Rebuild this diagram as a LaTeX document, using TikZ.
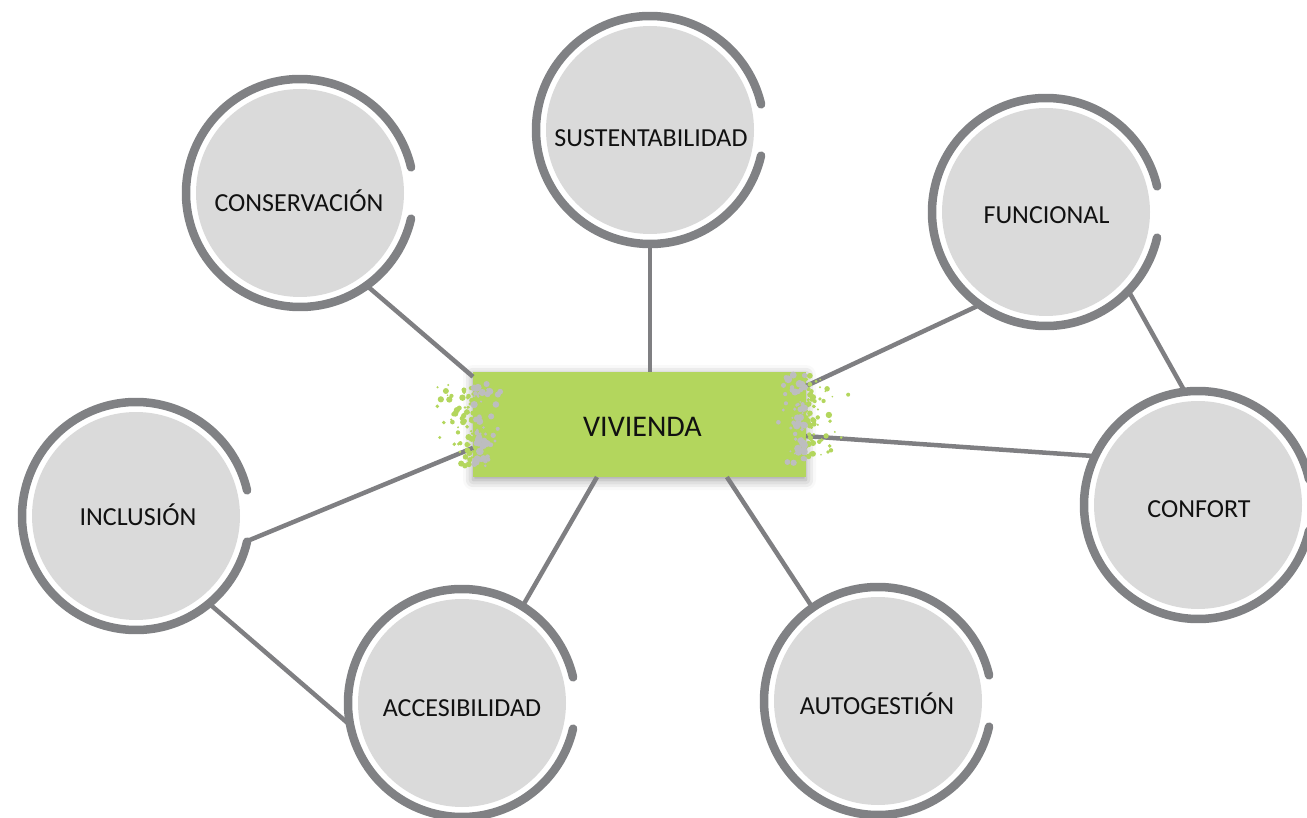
\documentclass[tikz,border=0pt]{standalone}
\usepackage{fontspec}
\newfontfamily\lbl{Carlito}
\usetikzlibrary{shadows.blur}
\definecolor{ringgray}{HTML}{808184}
\definecolor{diskgray}{HTML}{DADADA}
\definecolor{linkgray}{HTML}{7F7F82}
\definecolor{vgreen}{HTML}{B3D65D}
\definecolor{speckgray}{HTML}{BDBDBF}
\definecolor{txtcol}{HTML}{111111}
\begin{document}
\begin{tikzpicture}[x=1pt,y=-1pt,
  bubble/.style={circle, minimum size=232pt, inner sep=0pt, outer sep=0pt},
  lbltext/.style={font=\lbl\fontsize{26}{30}\selectfont, text=txtcol, text height=16.7pt, text depth=0pt, inner sep=0pt},
  vivtext/.style={font=\lbl\fontsize{30}{34}\selectfont, text=txtcol, text height=19.3pt, text depth=0pt, inner sep=0pt},
  vbox/.style={rectangle, fill=vgreen, minimum width=333pt, minimum height=105pt, inner sep=0pt, outer sep=0pt,
    blur shadow={shadow xshift=0pt, shadow yshift=-3pt, shadow blur radius=10pt, shadow opacity=40}},
  link/.style={draw=linkgray, line width=4.5pt},
  ringarc/.style={draw=ringgray, line width=8.5pt, line cap=round},
  ]
\useasboundingbox (0,0) rectangle (1307,818);

% circle nodes (anchor holders)
\node[bubble] (cons)  at (300,193) {};
\node[bubble] (sust)  at (650,130) {};
\node[bubble] (func)  at (1046,212) {};
\node[bubble] (conf)  at (1198,505) {};
\node[bubble] (incl)  at (136,516) {};
\node[bubble] (acc)   at (462,703) {};
\node[bubble] (autog) at (878,701) {};

% central box
\node[vbox] (viv) at (639.5,424.5) {};

% connectors
\draw[link] (cons.-54) -- (viv.164.4);
\draw[link] (sust) -- (sust |- viv.north);
\draw[link] (func.-126) -- (viv.13.6);
\draw[link] (func.-44.3) -- (conf.97.3);
\draw[link] (conf.155.4) -- (viv.-4.2);
\draw[link] (incl.-12.6) -- (viv.-172);
\draw[link] (incl.-50.9) -- (acc.-170.8);
\draw[link] (acc.58.1) -- (viv.-129.8);
\draw[link] (autog.125.9) -- (viv.-31);

% disintegration specks at the box edges
\pgfmathsetseed{7}
\foreach \i in {1,...,70}{
  \pgfmathsetmacro\sx{473-44*rnd*rnd}
  \pgfmathsetmacro\sy{385+82*rnd}
  \pgfmathsetmacro\sr{0.8+2.4*rnd}
  \fill[vgreen] (\sx,\sy) circle[radius=\sr];
}
\foreach \i in {1,...,60}{
  \pgfmathsetmacro\sx{474+34*rnd*rnd}
  \pgfmathsetmacro\sy{380+88*rnd}
  \pgfmathsetmacro\sr{1+3*rnd}
  \fill[speckgray] (\sx,\sy) circle[radius=\sr];
}
\foreach \i in {1,...,70}{
  \pgfmathsetmacro\sx{806+44*rnd*rnd}
  \pgfmathsetmacro\sy{375+82*rnd}
  \pgfmathsetmacro\sr{0.8+2.4*rnd}
  \fill[vgreen] (\sx,\sy) circle[radius=\sr];
}
\foreach \i in {1,...,60}{
  \pgfmathsetmacro\sx{805-34*rnd*rnd}
  \pgfmathsetmacro\sy{375+88*rnd}
  \pgfmathsetmacro\sr{1+3*rnd}
  \fill[speckgray] (\sx,\sy) circle[radius=\sr];
}

% disks and broken rings
\foreach \n in {cons,sust,func,conf,incl,acc,autog}{
  \fill[diskgray] (\n.center) circle[radius=104];
  \draw[ringarc] (\n.center) ++(13:114) arc[start angle=13, end angle=347, radius=114];
}

% labels
\node[lbltext] (consT)  at (299,203)  {CONSERVACIÓN};
\node[lbltext] (sustT)  at (651,138.5) {SUSTENTABILIDAD};
\node[lbltext] (funcT)  at (1046.5,214.7) {FUNCIONAL};
\node[lbltext] (confT)  at (1199,509) {CONFORT};
\node[lbltext] (inclT)  at (138,517)  {INCLUSIÓN};
\node[lbltext] (accT)   at (462,708)  {ACCESIBILIDAD};
\node[lbltext] (autogT) at (877,706.5) {AUTOGESTIÓN};
\node[vivtext] (vivT)   at (642.5,427) {VIVIENDA};
\end{tikzpicture}
\end{document}
